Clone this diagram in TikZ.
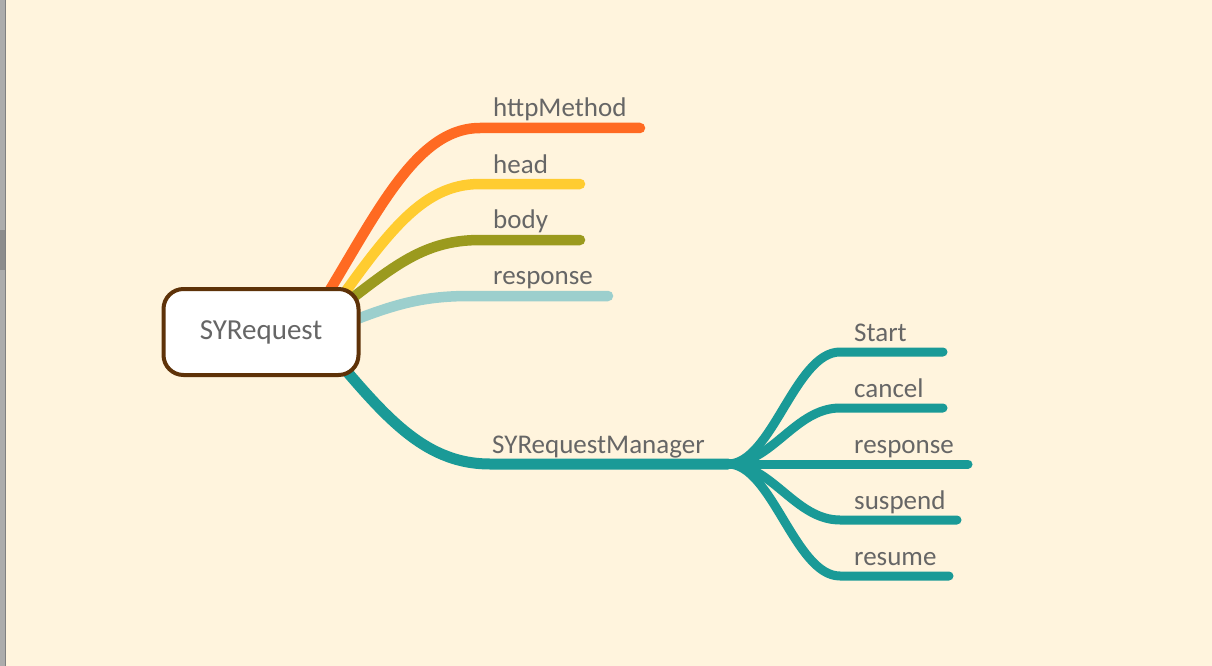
\documentclass[tikz,border=0pt]{standalone}
\usepackage{fontspec}
\setmainfont{Carlito}
\usetikzlibrary{calc,backgrounds}
\definecolor{bg}{HTML}{FFF4DD}
\definecolor{txt}{HTML}{666666}
\definecolor{rootedge}{HTML}{5E3208}
\definecolor{orng}{HTML}{FF6A22}
\definecolor{yell}{HTML}{FFCC30}
\definecolor{olive}{HTML}{9B9A1E}
\definecolor{lblue}{HTML}{9CCFCD}
\definecolor{tealb}{HTML}{1A9A97}
\begin{document}
\begin{tikzpicture}[x=1pt,y=-1pt,
	br/.style={line width=10.5pt,line cap=round},
	sub/.style={line width=9pt,line cap=round,tealb},
	lbl/.style={anchor=base west,inner sep=0pt,text=txt,font=\fontsize{27}{27}\selectfont}]
	\useasboundingbox (0,0) rectangle (1212,666);
	\node[draw=rootedge,fill=white,line width=4pt,rounded corners=20pt,minimum width=195pt,minimum height=86pt,text=txt,font=\fontsize{29}{29}\selectfont] (root) at (261,332) {SYRequest};
	\coordinate (http) at (640,128);
	\coordinate (head) at (580,184);
	\coordinate (body) at (580,240);
	\coordinate (resp) at (608,296);
	\coordinate (mgr) at (728,464);
	\coordinate (start) at (943,352);
	\coordinate (cancel) at (943,408);
	\coordinate (mresp) at (968,464);
	\coordinate (suspend) at (957,520);
	\coordinate (resume) at (949,576);
	\node[lbl] (httpL) at (493,117) {httpMethod};
	\node[lbl] (headL) at (493,173) {head};
	\node[lbl] (bodyL) at (493,228.5) {body};
	\node[lbl] (respL) at (493,284.5) {response};
	\node[lbl] (mgrL) at (492,453) {SYRequestManager};
	\node[lbl] (startL) at (854,341.5) {Start};
	\node[lbl] (cancelL) at (854,397.5) {cancel};
	\node[lbl] (mrespL) at (854,453) {response};
	\node[lbl] (suspendL) at (854,509) {suspend};
	\node[lbl] (resumeL) at (854,565) {resume};
	\begin{pgfonlayer}{background}
		\fill[bg] (0,0) rectangle (1212,666);
		\fill[gray!65] (0,0) rectangle (6,666);
		\fill[gray!90] (0,230) rectangle (5,270);
		\draw[gray,line width=1pt] (5.5,0) -- (5.5,666);
		\draw[br,orng] ($(root)+(44,-2)$) .. controls (370,230) and (410,128) .. (480,128) -- (http);
		\draw[br,yell] ($(root)+(54,3)$) .. controls (385,235) and (420,184) .. (480,184) -- (head);
		\draw[br,olive] ($(root)+(69,-17)$) .. controls (390,270) and (420,240) .. (480,240) -- (body);
		\draw[br,lblue] ($(root)+(69,-2)$) .. controls (390,305) and (420,296) .. (470,296) -- (resp);
		\draw[br,tealb,line width=11pt] ($(root)+(59,8)$) .. controls (380,410) and (420,464) .. (490,464) -- (mgr);
		\draw[sub] (mgr) .. controls (772,464) and (795,352) .. (840,352) -- (start);
		\draw[sub] (mgr) .. controls (772,464) and (795,408) .. (840,408) -- (cancel);
		\draw[sub] (mgr) -- (mresp);
		\draw[sub] (mgr) .. controls (772,464) and (795,520) .. (840,520) -- (suspend);
		\draw[sub] (mgr) .. controls (772,464) and (795,576) .. (840,576) -- (resume);
	\end{pgfonlayer}
\end{tikzpicture}
\end{document}
